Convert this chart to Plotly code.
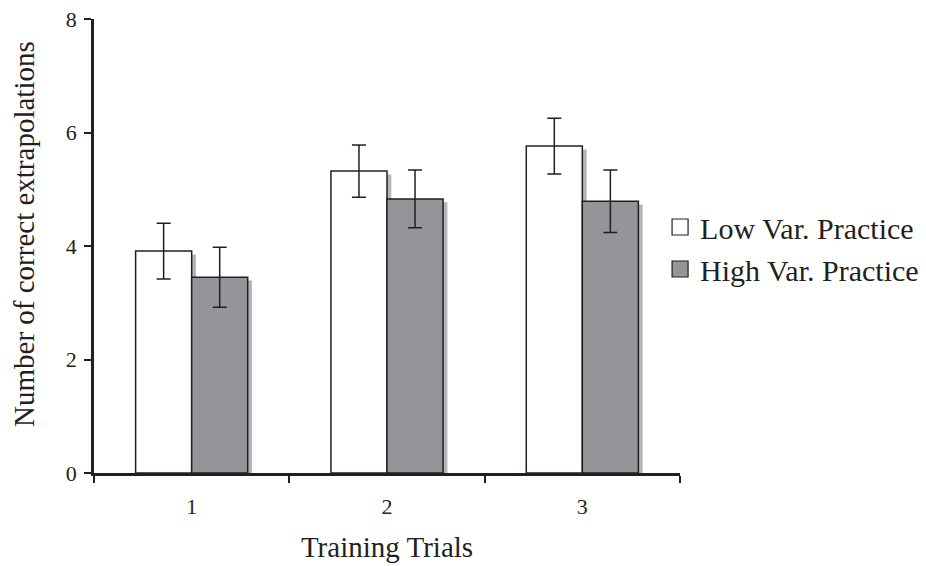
import plotly.graph_objects as go

categories = ["1", "2", "3"]
low_values = [3.91, 5.32, 5.76]
low_errors = [0.49, 0.46, 0.49]
high_values = [3.45, 4.83, 4.79]
high_errors = [0.53, 0.51, 0.55]
series_names = ["Low Var. Practice", "High Var. Practice"]
y_ticks = [0, 2, 4, 6, 8]

FONT = "Liberation Serif, Times New Roman, serif"
DARK = "#231f20"
GRAY = "#939598"
SHADOW = "#b5b6b8"
BW = 0.287  # bar width in category units
SH = 0.022  # shadow shift

# the page body has an 8px default margin; the figure is sized to fit the window
W, H = 918, 558

fig = go.Figure()

# shadows
for vals, off in [(low_values, -BW), (high_values, 0.0)]:
    fig.add_trace(go.Bar(
        x=categories, y=[v - 0.06 for v in vals], width=BW, offset=off + SH,
        marker=dict(color=SHADOW, line=dict(width=0)),
        showlegend=False, hoverinfo="skip"))

fig.add_trace(go.Bar(
    x=categories, y=low_values, width=BW, offset=-BW, name=series_names[0],
    marker=dict(color="white", line=dict(color=DARK, width=1.5)),
    error_y=dict(type="data", array=low_errors, color=DARK, thickness=1.5, width=7),
    showlegend=False))
fig.add_trace(go.Bar(
    x=categories, y=high_values, width=BW, offset=0.0, name=series_names[1],
    marker=dict(color=GRAY, line=dict(color=DARK, width=1.5)),
    error_y=dict(type="data", array=high_errors, color=DARK, thickness=1.5, width=7),
    showlegend=False))

# legend entries
for name, col in zip(series_names, ["white", GRAY]):
    fig.add_trace(go.Scatter(
        x=[None], y=[None], mode="markers", name=name,
        marker=dict(symbol="square", size=16, color=col, line=dict(color=DARK, width=1.2))))

fig.update_layout(
    width=W, height=H,
    margin=dict(l=86, r=246, t=11, b=93, autoexpand=False),
    paper_bgcolor="white", plot_bgcolor="white",
    barmode="overlay",
    font=dict(family=FONT, color=DARK),
    showlegend=True,
    legend=dict(x=0.966, xanchor="left", y=0.4956, yanchor="middle",
                font=dict(family=FONT, size=30, color=DARK),
                bgcolor="rgba(0,0,0,0)", itemsizing="trace",
                tracegroupgap=0, itemwidth=30),
    xaxis=dict(
        type="category", range=[-0.5, 2.5], automargin=False,
        showline=True, linecolor=DARK, linewidth=2.5,
        ticks="outside", tickson="boundaries", ticklen=7, tickwidth=2, tickcolor=DARK,
        tickfont=dict(family=FONT, size=22, color=DARK), ticklabelstandoff=12,
        showgrid=False, zeroline=False,
        title=dict(text="Training Trials", font=dict(family=FONT, size=29, color=DARK), standoff=19),
    ),
    yaxis=dict(
        range=[0, 8], tickvals=y_ticks, automargin=False,
        showline=True, linecolor=DARK, linewidth=2.5,
        ticks="outside", ticklen=7, tickwidth=2, tickcolor=DARK,
        tickfont=dict(family=FONT, size=22, color=DARK), ticklabelstandoff=3,
        ticklabeloverflow="allow",
        showgrid=False, zeroline=False,
    ),
    annotations=[dict(
        text="Number of correct extrapolations", textangle=-90,
        xref="paper", yref="paper", x=-0.1195, y=0.5264,
        xanchor="center", yanchor="middle", showarrow=False,
        font=dict(family=FONT, size=29, color=DARK))],
)

fig.write_html("out.html")
